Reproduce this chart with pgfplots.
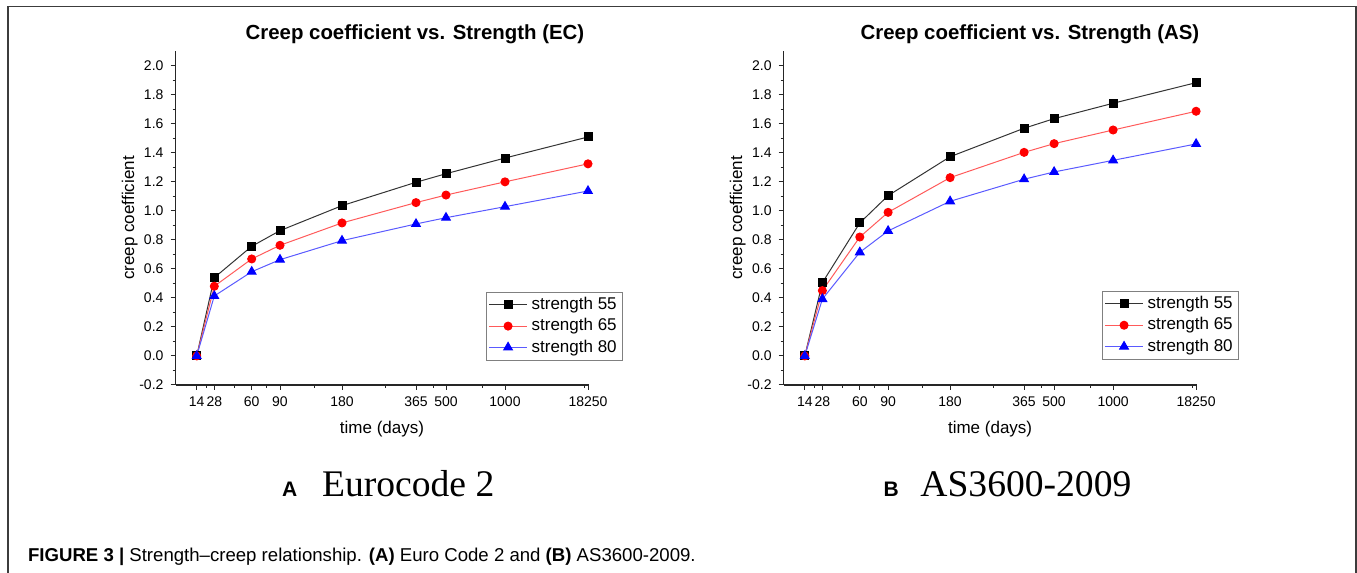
\documentclass[border=0pt]{standalone}
\usepackage{pgfplots}
\pgfplotsset{compat=1.18}
\usepackage{fontspec}
\setmainfont{Liberation Sans}
\newfontfamily\timesfont{Liberation Serif}

\definecolor{lnred}{RGB}{255,90,90}
\definecolor{lnblue}{RGB}{90,90,255}
\definecolor{framegray}{RGB}{60,60,60}

\pgfplotsset{
  creep/.style={
    scale only axis, width=206.5pt, height=167pt,
    xmin=0, xmax=413, ymin=-0.2, ymax=2.1,
    axis x line*=bottom, axis y line*=left,
    axis line style={-, line width=0.6pt, black!85},
    tick align=outside, major tick length=2.5pt, minor tick length=1.5pt,
    every tick/.style={line width=0.5pt, black!85},
    xtick={21.2,38.8,76.2,104.5,166.5,240.5,270.5,329.5,412.5},
    xticklabels={14,28,60,90,180,365,500,1000,18250},
    minor xtick={30.5,58.5,91.2,138.8,209.5,257.8,307.2,408.5},
    ytick={-0.2,0.0,0.2,0.4,0.6,0.8,1.0,1.2,1.4,1.6,1.8,2.0},
    yticklabels={-0.2,0.0,0.2,0.4,0.6,0.8,1.0,1.2,1.4,1.6,1.8,2.0},
    minor y tick num=1,
    ticklabel style={font=\fontsize{7}{8}\selectfont},
    xlabel={time (days)},
    ylabel={creep coefficient},
    xlabel style={at={(axis description cs:0.5,-0.131)}, anchor=center, font=\fontsize{8.5}{10}\selectfont},
    ylabel style={at={(axis description cs:-0.111,0.5)}, anchor=center, font=\fontsize{8.5}{10}\selectfont},
    legend cell align=left,
    legend style={anchor=north west, draw=black!50, line width=0.5pt, fill=white,
      font=\fontsize{8.5}{10}\selectfont, inner xsep=1pt, inner ysep=0.5pt, row sep=-1pt},
    legend image code/.code={\draw[mark repeat=2,mark phase=2] plot coordinates {(0cm,0cm) (0.335cm,0cm) (0.67cm,0cm)};},
    s55/.style={black!80, line width=0.5pt, mark=square*, mark size=2pt, mark options={black, fill=black}},
    s65/.style={lnred, line width=0.5pt, mark=*, mark size=2pt, mark options={red, fill=red}},
    s80/.style={lnblue, line width=0.5pt, mark=triangle*, mark size=2.5pt, mark options={blue, fill=blue}},
  }
}

\begin{document}
\begin{tikzpicture}
\useasboundingbox (0,0) rectangle (678.5pt,286.5pt);
\draw[framegray, line width=0.7pt] (3.9pt,0) -- (3.9pt,283.15pt) -- (678pt,283.15pt) -- (678pt,0);

% (A) Eurocode 2
\begin{axis}[creep, at={(87.75pt,94pt)}, anchor=south west,
  legend style={at={(axis cs:310.5,0.443)}}]
\addplot[s55] coordinates {(21.2,0) (38.8,0.539) (76.2,0.755) (104.5,0.863) (166.5,1.035) (240.5,1.196) (270.5,1.255) (329.5,1.363) (412.5,1.508)};
\addplot[s65] coordinates {(21.2,0) (38.8,0.480) (76.2,0.668) (104.5,0.762) (166.5,0.916) (240.5,1.056) (270.5,1.108) (329.5,1.199) (412.5,1.323)};
\addplot[s80] coordinates {(21.2,0) (38.8,0.413) (76.2,0.580) (104.5,0.663) (166.5,0.794) (240.5,0.909) (270.5,0.952) (329.5,1.028) (412.5,1.136)};
\legend{strength 55, strength 65, strength 80}
\end{axis}

% (B) AS3600-2009
\begin{axis}[creep, at={(391.8pt,94pt)}, anchor=south west,
  legend style={at={(axis cs:318.4,0.449)}}]
\addplot[s55] coordinates {(21.2,0) (38.8,0.505) (76.2,0.916) (104.5,1.104) (166.5,1.372) (240.5,1.568) (270.5,1.634) (329.5,1.740) (412.5,1.882)};
\addplot[s65] coordinates {(21.2,0) (38.8,0.450) (76.2,0.819) (104.5,0.989) (166.5,1.228) (240.5,1.402) (270.5,1.462) (329.5,1.556) (412.5,1.685)};
\addplot[s80] coordinates {(21.2,0) (38.8,0.392) (76.2,0.714) (104.5,0.861) (166.5,1.065) (240.5,1.217) (270.5,1.267) (329.5,1.347) (412.5,1.460)};
\legend{strength 55, strength 65, strength 80}
\end{axis}

\node[anchor=base, font=\bfseries\fontsize{10.2}{12}\selectfont] at (207.5pt,266.5pt) {Creep coefficient vs. Strength (EC)};
\node[anchor=base, font=\bfseries\fontsize{10.2}{12}\selectfont] at (515pt,266.5pt) {Creep coefficient vs. Strength (AS)};

\node[anchor=base west, inner sep=0pt, font=\bfseries\fontsize{10.5}{12}\selectfont] at (140.85pt,38.15pt) {A};
\node[anchor=base west, inner sep=0pt, font=\timesfont\fontsize{18.8}{22}\selectfont] at (160.85pt,38.15pt) {Eurocode 2};
\node[anchor=base west, inner sep=0pt, font=\bfseries\fontsize{10.5}{12}\selectfont] at (441.65pt,38.15pt) {B};
\node[anchor=base west, inner sep=0pt, font=\timesfont\fontsize{18.8}{22}\selectfont] at (460pt,38.15pt) {AS3600-2009};

\node[anchor=base west, inner sep=0pt, font=\fontsize{9.3}{11}\selectfont] at (13.85pt,5.65pt)
  {\textbf{FIGURE 3 |} Strength–creep relationship. \textbf{(A)} Euro Code 2 and \textbf{(B)} AS3600-2009.};
\end{tikzpicture}
\end{document}
